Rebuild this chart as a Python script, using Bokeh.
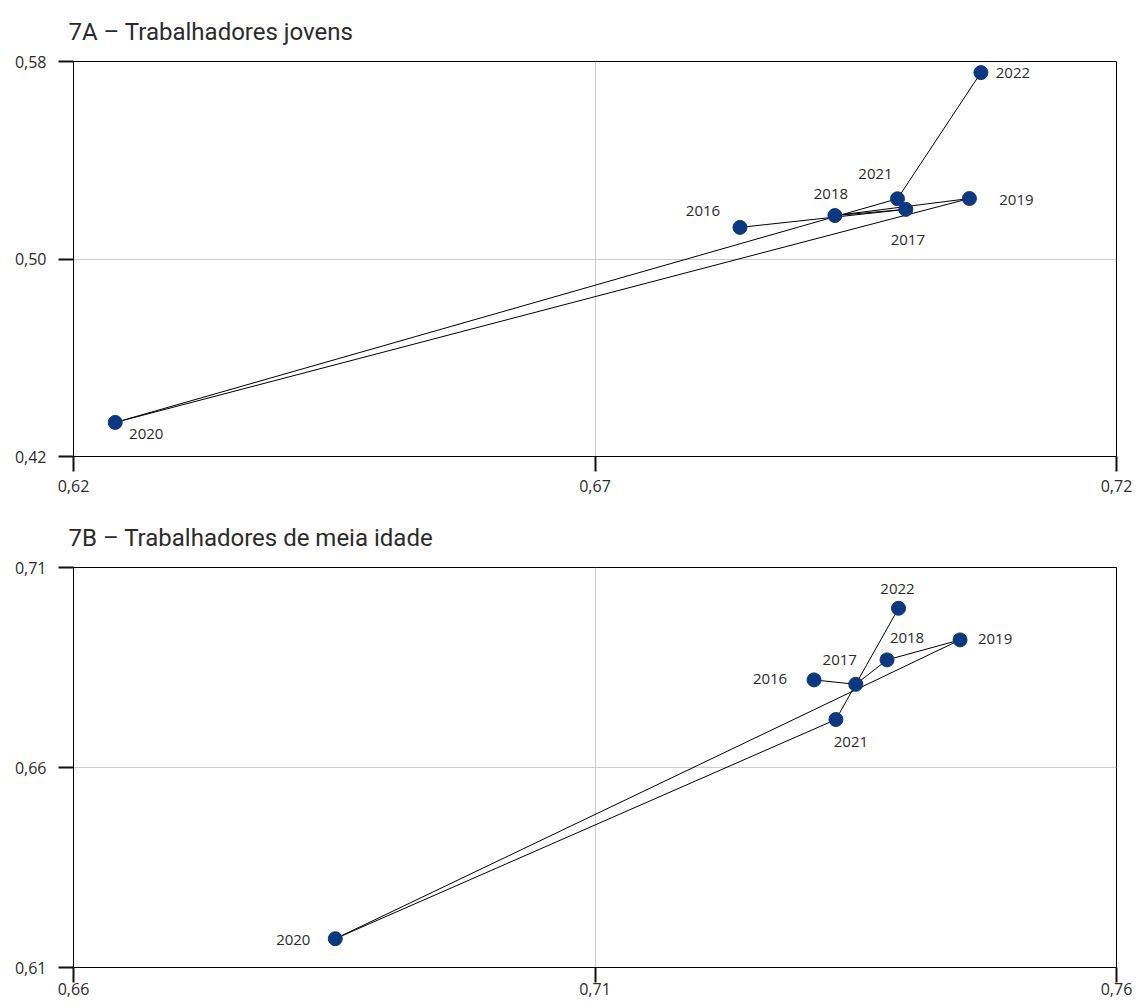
from bokeh.plotting import figure
from bokeh.layouts import column
from bokeh.models import ColumnDataSource, FixedTicker, Range1d
from bokeh.core.properties import value
from bokeh.embed import file_html
from bokeh.resources import INLINE

# ---- data ----
years = ["2016", "2017", "2018", "2019", "2020", "2021", "2022"]

# 7A - young workers
a_x = [0.6839, 0.6998, 0.6930, 0.7059, 0.6240, 0.6990, 0.7070]
a_y = [0.5128, 0.5201, 0.5176, 0.5245, 0.4338, 0.5244, 0.5755]
# 7B - middle-aged workers
b_x = [0.7310, 0.7350, 0.7380, 0.7450, 0.6851, 0.7331, 0.7391]
b_y = [0.6819, 0.6808, 0.6869, 0.6919, 0.6172, 0.6720, 0.6998]

a_xticks = [0.62, 0.67, 0.72]
a_xlabels = ["0,62", "0,67", "0,72"]
a_yticks = [0.42, 0.50, 0.58]
a_ylabels = ["0,42", "0,50", "0,58"]
b_xticks = [0.66, 0.71, 0.76]
b_xlabels = ["0,66", "0,71", "0,76"]
b_yticks = [0.61, 0.66, 0.71]
b_ylabels = ["0,61", "0,66", "0,71"]

title_a = "7A – Trabalhadores jovens"
title_b = "7B – Trabalhadores de meia idade"

# label offsets (screen px) - styling only
a_dx = [-37, 2, -4, 47, 31, -22, 32]
a_dy = [-16, 31, -22, 1, 12, -25, 0]
b_dx = [-44, -16, 20, 35, -42, 15, -1]
b_dy = [-1, -24, -22, -1, 1, 22, -19]

MARK = "#0b3880"
TXT = "#2b2b2b"
FONT = "Open Sans"
TFONT = "Roboto"


def panel(title, xs, ys, xt, xl, yt, yl, dx, dy, height, top, bottom, xstand):
    p = figure(width=1136, height=height, output_backend="svg", toolbar_location=None,
               x_range=Range1d(xt[0], xt[-1]), y_range=Range1d(yt[0], yt[-1]),
               min_border_left=73, min_border_right=20,
               min_border_top=top, min_border_bottom=bottom, title=title)
    p.title.text_font = TFONT
    p.title.text_font_size = "24px"
    p.title.text_font_style = "normal"
    p.title.text_color = TXT
    p.title.offset = -5
    p.title.standoff = 31
    p.background_fill_color = "white"
    p.border_fill_color = "white"
    p.outline_line_color = "black"
    p.outline_line_alpha = 1
    p.outline_line_width = 1

    xa = p.xaxis[0]
    ya = p.yaxis[0]
    xa.ticker = FixedTicker(ticks=xt)
    ya.ticker = FixedTicker(ticks=yt)
    xa.major_label_overrides = {t: l for t, l in zip(xt, xl)}
    ya.major_label_overrides = {t: l for t, l in zip(yt, yl)}
    for ax in (xa, ya):
        ax.axis_line_color = "black"
        ax.axis_line_width = 1
        ax.major_tick_line_color = "#111111"
        ax.major_tick_line_width = 2
        ax.minor_tick_line_color = None
        ax.major_tick_in = 0
        ax.major_tick_out = 15
        ax.major_label_text_font = FONT
        ax.major_label_text_font_size = "16px"
        ax.major_label_text_color = TXT
    xa.major_label_standoff = xstand
    ya.major_label_standoff = 12
    p.xgrid.grid_line_color = "#cccccc"
    p.ygrid.grid_line_color = "#cccccc"

    src = ColumnDataSource(dict(x=xs, y=ys, year=years, dx=dx, dy=dy))
    p.line("x", "y", source=src, line_color="black", line_width=1)
    p.scatter("x", "y", source=src, size=14, fill_color=MARK, line_color=MARK)
    p.text("x", "y", text="year", source=src, x_offset="dx", y_offset="dy",
           text_align="center", text_baseline="middle",
           text_font=value(FONT), text_font_size="15px", text_color=TXT)
    return p


pa = panel(title_a, a_x, a_y, a_xticks, a_xlabels, a_yticks, a_ylabels, a_dx, a_dy, 505, 61, 49, 8)
pb = panel(title_b, b_x, b_y, b_xticks, b_xlabels, b_yticks, b_ylabels, b_dx, b_dy, 503, 62, 41, 0)

layout = column(pa, pb, spacing=0)
open("out.html", "w").write(file_html(layout, INLINE))
